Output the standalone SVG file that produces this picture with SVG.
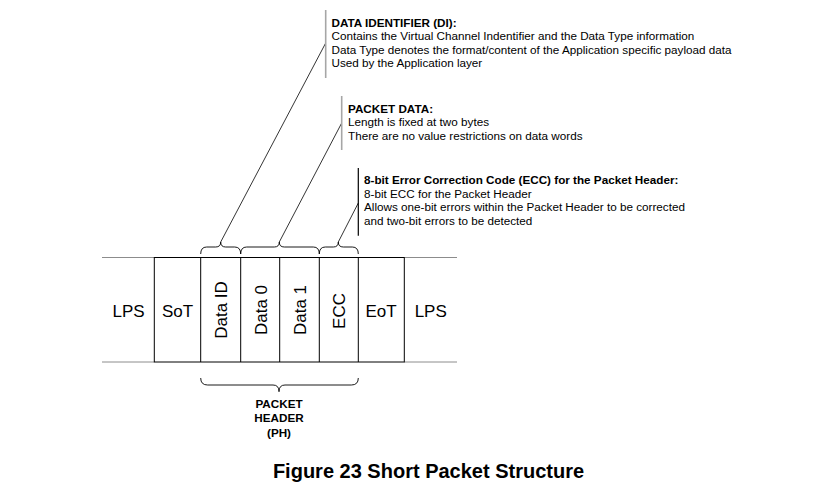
<svg xmlns="http://www.w3.org/2000/svg" width="836" height="489" viewBox="0 0 836 489">
<style>
text{font-family:"Liberation Sans",Arial,sans-serif;fill:#000}
.cell{font-size:17px}
.note{font-size:11.7px}
.b{font-weight:bold}
.ph{font-size:11.7px;font-weight:bold}
.title{font-size:20px;font-weight:bold}
.box{fill:none;stroke:#000;stroke-width:1}
.gl{stroke:#8c8c8c;stroke-width:1;fill:none}
.br{fill:none;stroke:#000;stroke-width:0.9}
.ld{stroke:#000;stroke-width:0.8;fill:none}
.gbar{stroke:#a6a6a6;stroke-width:1.6}
.kbar{stroke:#000;stroke-width:1.2}
</style>
<rect width="836" height="489" fill="#fff"/>
<g id="packet">
<line class="gl" x1="102" y1="257.5" x2="154.3" y2="257.5"/>
<line class="gl" x1="404.3" y1="257.5" x2="457" y2="257.5"/>
<line class="gl" x1="102" y1="362" x2="154.3" y2="362"/>
<line class="gl" x1="404.3" y1="362" x2="457" y2="362"/>
<rect class="box" x="154.3" y="257.5" width="250" height="104.5"/>
<line class="box" x1="200.7" y1="257.5" x2="200.7" y2="362"/>
<line class="box" x1="240.7" y1="257.5" x2="240.7" y2="362"/>
<line class="box" x1="279.7" y1="257.5" x2="279.7" y2="362"/>
<line class="box" x1="319.3" y1="257.5" x2="319.3" y2="362"/>
<line class="box" x1="358.3" y1="257.5" x2="358.3" y2="362"/>
</g>
<g id="lps1"><text class="cell" x="128.5" y="317" text-anchor="middle">LPS</text></g>
<g id="sot"><text class="cell" x="177.5" y="317" text-anchor="middle">SoT</text></g>
<g id="dataid"><text class="cell" text-anchor="middle" transform="translate(227,310) rotate(-90)">Data ID</text></g>
<g id="data0"><text class="cell" text-anchor="middle" transform="translate(266.5,310) rotate(-90)">Data 0</text></g>
<g id="data1"><text class="cell" text-anchor="middle" transform="translate(305.5,310) rotate(-90)">Data 1</text></g>
<g id="ecc"><text class="cell" text-anchor="middle" transform="translate(345,311) rotate(-90)">ECC</text></g>
<g id="eot"><text class="cell" x="381" y="317" text-anchor="middle">EoT</text></g>
<g id="lps2"><text class="cell" x="430.7" y="317" text-anchor="middle">LPS</text></g>
<g id="connectors">
<path class="br" d="M200.7,254 Q200.7,247 206.7,247 L215.7,247 Q220.7,247 220.7,242 Q220.7,247 225.7,247 L234.7,247 Q240.7,247 240.7,254"/>
<path class="br" d="M240.7,254 Q240.7,247 246.7,247 L274.3,247 Q279.3,247 279.3,242 Q279.3,247 284.3,247 L313.3,247 Q319.3,247 319.3,254"/>
<path class="br" d="M319.3,254 Q319.3,247 325.3,247 L333.3,247 Q338.3,247 338.3,242 Q338.3,247 343.3,247 L352.3,247 Q358.3,247 358.3,254"/>
<path class="br" d="M200.7,378 Q200.7,385 207.7,385 L273,385 Q279,385 279,391.7 Q279,385 285,385 L351.3,385 Q358.3,385 358.3,378"/>
<line class="ld" x1="220.7" y1="242" x2="325.7" y2="43"/>
<line class="ld" x1="279.3" y1="242" x2="341.7" y2="123"/>
<line class="ld" x1="338.3" y1="242" x2="358.3" y2="203"/>
</g>
<g id="note-di">
<line class="gbar" x1="325.7" y1="10" x2="325.7" y2="78"/>
<text class="note b" x="331.5" y="26.5">DATA IDENTIFIER (DI):</text>
<text class="note" x="331.5" y="40">Contains the Virtual Channel Indentifier and the Data Type information</text>
<text class="note" x="331.5" y="53.5">Data Type denotes the format/content of the Application specific payload data</text>
<text class="note" x="331.5" y="67">Used by the Application layer</text>
</g>
<g id="note-pd">
<line class="gbar" x1="341.7" y1="96" x2="341.7" y2="150"/>
<text class="note b" x="348" y="112.5">PACKET DATA:</text>
<text class="note" x="348" y="126">Length is fixed at two bytes</text>
<text class="note" x="348" y="139.5">There are no value restrictions on data words</text>
</g>
<g id="note-ecc">
<line class="kbar" x1="358.3" y1="168" x2="358.3" y2="235.7"/>
<text class="note b" x="364" y="184">8-bit Error Correction Code (ECC) for the Packet Header:</text>
<text class="note" x="364" y="197.5">8-bit ECC for the Packet Header</text>
<text class="note" x="364" y="211">Allows one-bit errors within the Packet Header to be corrected</text>
<text class="note" x="364" y="224.5">and two-bit errors to be detected</text>
</g>
<g id="ph-label">
<text class="ph" x="279" y="407.5" text-anchor="middle">PACKET</text>
<text class="ph" x="279" y="422" text-anchor="middle">HEADER</text>
<text class="ph" x="279" y="436.5" text-anchor="middle">(PH)</text>
</g>
<g id="caption"><text class="title" x="428.5" y="478" text-anchor="middle">Figure 23 Short Packet Structure</text></g>
</svg>
